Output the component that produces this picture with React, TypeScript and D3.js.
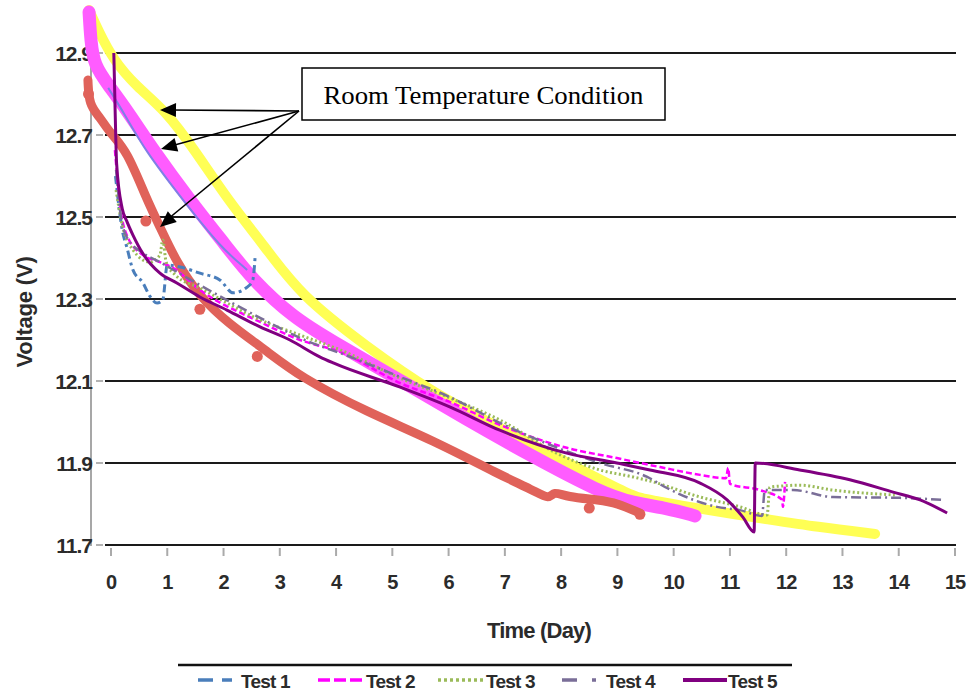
import React from "react";
import * as d3 from "d3";

// ---- Data (day, volts) ----
const dayTicks = [0, 1, 2, 3, 4, 5, 6, 7, 8, 9, 10, 11, 12, 13, 14, 15];
const voltTicks = [11.7, 11.9, 12.1, 12.3, 12.5, 12.7, 12.9];

// Room temperature condition curves (not in legend)
const roomYellow: [number, number][] = [
  [-0.39, 13.005], [-0.23, 12.956], [0.04, 12.883], [0.46, 12.817], [0.96, 12.761],
  [1.49, 12.663], [2.08, 12.541], [2.74, 12.427], [3.36, 12.31], [4.55, 12.183],
  [5.72, 12.071], [6.91, 11.985], [8.1, 11.902], [9.28, 11.817], [9.58, 11.81],
  [10.47, 11.788], [11.66, 11.763], [12.55, 11.744], [13.58, 11.727],
];
const roomMagenta: [number, number][] = [
  [-0.39, 13.0], [-0.36, 12.93], [-0.3, 12.87], [-0.05, 12.822], [0.28, 12.761],
  [0.75, 12.663], [1.4, 12.541], [2.06, 12.427], [2.52, 12.346], [3.23, 12.256],
  [3.89, 12.2], [5.14, 12.102], [6.33, 12.005], [7.5, 11.915], [8.69, 11.829],
  [9.28, 11.802], [9.88, 11.79], [10.38, 11.771],
];
const roomBlueThin: [number, number][] = [
  [-0.05, 12.815], [0.25, 12.749], [0.6, 12.663], [1.28, 12.541], [1.94, 12.427], [2.42, 12.371],
];
const roomRed: [number, number][] = [
  [-0.41, 12.834], [-0.39, 12.773], [-0.2, 12.744], [-0.02, 12.705], [0.28, 12.663],
  [0.64, 12.541], [0.87, 12.476], [1.17, 12.388], [1.58, 12.305], [2.08, 12.241],
  [2.74, 12.176], [3.36, 12.11], [4.55, 12.024], [5.72, 11.956], [6.91, 11.871],
  [7.5, 11.834], [7.8, 11.81], [7.86, 11.832], [8.1, 11.817], [8.69, 11.81],
  [8.99, 11.802], [9.4, 11.778],
];
const roomRedDots: [number, number][] = [
  [-0.4, 12.8], [0.62, 12.49], [1.58, 12.275], [2.6, 12.16], [8.5, 11.79], [9.4, 11.775],
];

const test1: [number, number][] = [
  [0.08, 12.6], [0.2, 12.468], [0.28, 12.427], [0.39, 12.371], [0.57, 12.339], [0.69, 12.307],
  [0.82, 12.29], [0.92, 12.298], [1.0, 12.383], [1.23, 12.378], [1.58, 12.363], [1.94, 12.346],
  [2.17, 12.315], [2.42, 12.329], [2.52, 12.346], [2.56, 12.4],
];
const test2: [number, number][] = [
  [0.07, 12.663], [0.16, 12.529], [0.28, 12.456], [0.57, 12.407], [0.87, 12.39], [1.1, 12.376],
  [1.58, 12.322], [2.65, 12.244], [3.36, 12.2], [4.07, 12.171], [5.14, 12.095], [6.02, 12.049],
  [6.91, 11.993], [8.1, 11.937], [8.99, 11.912], [9.76, 11.89], [10.47, 11.871], [10.93, 11.863],
  [10.97, 11.888], [11.0, 11.849], [11.53, 11.834], [11.93, 11.81], [11.94, 11.793], [11.98, 11.854],
];
const test3: [number, number][] = [
  [0.09, 12.566], [0.2, 12.48], [0.25, 12.456], [0.39, 12.42], [0.69, 12.39], [0.87, 12.407],
  [0.92, 12.444], [0.98, 12.39], [1.14, 12.359], [1.58, 12.327], [2.65, 12.249], [3.36, 12.212],
  [4.07, 12.176], [5.14, 12.107], [6.02, 12.059], [6.91, 12.005], [7.98, 11.92], [8.69, 11.883],
  [9.28, 11.866], [9.58, 11.856], [10.47, 11.817], [11.18, 11.793], [11.66, 11.773], [11.71, 11.841],
  [11.94, 11.844], [12.24, 11.846], [12.83, 11.834], [13.93, 11.822],
];
const test4: [number, number][] = [
  [0.09, 12.615], [0.16, 12.517], [0.28, 12.451], [0.57, 12.412], [0.87, 12.39], [1.17, 12.366],
  [1.58, 12.334], [2.65, 12.254], [3.36, 12.205], [4.25, 12.159], [5.14, 12.11], [6.02, 12.061],
  [6.91, 11.998], [8.69, 11.9], [9.53, 11.866], [9.88, 11.839], [10.77, 11.793], [11.18, 11.785],
  [11.57, 11.771], [11.62, 11.834], [12.12, 11.834], [12.83, 11.817], [14.02, 11.815], [14.79, 11.81],
];
const test5: [number, number][] = [
  [0.05, 12.9], [0.07, 12.78], [0.1, 12.63], [0.2, 12.52], [0.28, 12.49], [0.39, 12.456],
  [0.57, 12.41], [0.87, 12.363], [1.17, 12.339], [1.58, 12.305], [2.06, 12.273], [2.65, 12.232],
  [3.18, 12.2], [3.71, 12.159], [3.95, 12.144], [5.14, 12.085], [6.02, 12.037], [6.91, 11.98],
  [8.1, 11.924], [8.99, 11.9], [9.58, 11.883], [10.47, 11.851], [10.95, 11.81], [11.23, 11.768],
  [11.43, 11.732], [11.45, 11.9], [12.24, 11.883], [13.13, 11.859], [13.9, 11.829], [14.38, 11.81],
  [14.86, 11.778],
];

const seriesNames = ["Test 1", "Test 2", "Test 3", "Test 4", "Test 5"];
const seriesColors = ["#4a7ebb", "#ff00ff", "#9bbb59", "#7a6e98", "#800080"];
const seriesDash = ["8,4,3,4", "6,3", "2,2.5", "10,4,2,4", ""];
const seriesWidth = [3, 2.5, 3, 2.5, 3];
const seriesData = [test1, test2, test3, test4, test5];

const annotation = "Room Temperature Condition";

export default function App() {
  const x = d3.scaleLinear().domain([0, 15]).range([111, 955]);
  const y = d3.scaleLinear().domain([11.7, 12.9]).range([545, 53]);
  const line = d3
    .line<[number, number]>()
    .x((d) => x(d[0]))
    .y((d) => y(d[1]))
    .curve(d3.curveMonotoneX);
  const smooth = d3
    .line<[number, number]>()
    .x((d) => x(d[0]))
    .y((d) => y(d[1]))
    .curve(d3.curveBasis);

  const gridLeft = 105;
  const gridRight = 956;
  const sans = "'Liberation Sans', Arial, sans-serif";
  const serif = "'Liberation Serif', 'Times New Roman', serif";
  const labelFill = "#2b2b2b";

  const legendItems = [
    { sx: 198, ex: 238, tx: 241 },
    { sx: 318, ex: 363, tx: 366 },
    { sx: 438, ex: 486, tx: 486 },
    { sx: 562, ex: 598, tx: 606 },
    { sx: 683, ex: 727, tx: 728 },
  ];
  const legendDash = ["15,9,10,9", "12,4", "3,3", "15,15,4,30", ""];

  const boxLeft = 302;
  const arrowStart: [number, number] = [299, 111];
  const arrowTips: [number, number][] = [
    [160, 110],
    [161, 149],
    [160, 227],
  ];

  const arrowHead = (tip: [number, number], from: [number, number]) => {
    const dx = from[0] - tip[0];
    const dy = from[1] - tip[1];
    const len = Math.hypot(dx, dy);
    const ux = dx / len;
    const uy = dy / len;
    const L = 16;
    const W = 7;
    const bx = tip[0] + ux * L;
    const by = tip[1] + uy * L;
    return `M${tip[0]},${tip[1]}L${bx - uy * W},${by + ux * W}L${bx + uy * W},${by - ux * W}Z`;
  };

  return (
    <svg
      width={972}
      height={694}
      style={{ position: "absolute", left: 0, top: 0, background: "#fff" }}
    >
      <rect x={0} y={0} width={972} height={694} fill="#fff" />
      {/* y axis line */}
      <line x1={91} x2={91} y1={12} y2={546} stroke="#8a8a8a" strokeWidth={1.5} />
      {/* gridlines */}
      {voltTicks.map((v) => (
        <g key={v}>
          <line x1={gridLeft} x2={gridRight} y1={y(v)} y2={y(v)} stroke="#1a1a1a" strokeWidth={2.2} />
          <line x1={96} x2={103} y1={y(v)} y2={y(v)} stroke="#999" strokeWidth={1.5} />
          <text
            x={92}
            y={y(v) + 8}
            textAnchor="end"
            fontFamily={sans}
            fontWeight="bold"
            fontSize={21}
            letterSpacing={-1}
            fill={labelFill}
          >
            {v.toFixed(1)}
          </text>
        </g>
      ))}
      {/* x ticks */}
      {dayTicks.map((d) => (
        <g key={d}>
          <line x1={x(d)} x2={x(d)} y1={548} y2={556} stroke="#aaa" strokeWidth={2} />
          <text
            x={x(d)}
            y={589}
            textAnchor="middle"
            fontFamily={sans}
            fontWeight="bold"
            fontSize={20}
            letterSpacing={-1}
            fill={labelFill}
          >
            {d}
          </text>
        </g>
      ))}

      {/* Room temperature curves */}
      <path d={smooth(roomYellow) || ""} fill="none" stroke="#ffff55" strokeWidth={10} strokeLinecap="round" strokeLinejoin="round" />
      <path d={smooth(roomMagenta) || ""} fill="none" stroke="#ff5cff" strokeWidth={13} strokeLinecap="round" strokeLinejoin="round" />
      <path d={smooth(roomBlueThin) || ""} fill="none" stroke="#7f7fe6" strokeWidth={2} />
      <path d={smooth(roomRed) || ""} fill="none" stroke="#e0625a" strokeWidth={9} strokeLinecap="round" strokeLinejoin="round" />
      {roomRedDots.map((p, i) => (
        <circle key={i} cx={x(p[0])} cy={y(p[1])} r={5.5} fill="#e0625a" />
      ))}

      {/* Test series */}
      {seriesData.map((s, i) => (
        <path
          key={seriesNames[i]}
          d={line(s) || ""}
          fill="none"
          stroke={seriesColors[i]}
          strokeWidth={seriesWidth[i]}
          strokeDasharray={seriesDash[i] || undefined}
          strokeLinejoin="round"
        />
      ))}

      {/* Annotation */}
      <line x1={arrowStart[0]} y1={arrowStart[1]} x2={arrowTips[0][0] + 10} y2={arrowTips[0][1]} stroke="#000" strokeWidth={1.6} />
      <line x1={arrowStart[0]} y1={arrowStart[1]} x2={arrowTips[1][0] + 10} y2={arrowTips[1][1] - 3} stroke="#000" strokeWidth={1.6} />
      <line x1={arrowStart[0]} y1={arrowStart[1]} x2={arrowTips[2][0] + 8} y2={arrowTips[2][1] - 8} stroke="#000" strokeWidth={1.6} />
      {arrowTips.map((t, i) => (
        <path key={i} d={arrowHead(t, arrowStart)} fill="#000" />
      ))}
      <rect x={boxLeft} y={68} width={363} height={52} fill="#fff" stroke="#000" strokeWidth={1.5} />
      <text
        x={boxLeft + 363 / 2}
        y={104}
        textAnchor="middle"
        fontFamily={serif}
        fontSize={25}
        textLength={320}
        lengthAdjust="spacingAndGlyphs"
        fill="#000"
      >
        {annotation}
      </text>

      {/* Axis titles */}
      <text
        x={539}
        y={638}
        textAnchor="middle"
        fontFamily={sans}
        fontWeight="bold"
        fontSize={22}
        letterSpacing={-0.8}
        fill={labelFill}
      >
        Time (Day)
      </text>
      <text
        transform="translate(32,312) rotate(-90)"
        textAnchor="middle"
        fontFamily={sans}
        fontWeight="bold"
        fontSize={22}
        letterSpacing={-0.2}
        fill={labelFill}
      >
        Voltage (V)
      </text>

      {/* Legend */}
      <line x1={178} x2={792} y1={665} y2={665} stroke="#111" strokeWidth={2.5} />
      {legendItems.map((it, i) => (
        <g key={seriesNames[i]}>
          <line
            x1={it.sx}
            x2={it.ex}
            y1={680}
            y2={680}
            stroke={seriesColors[i]}
            strokeWidth={i === 4 ? 4 : 3.5}
            strokeDasharray={legendDash[i] || undefined}
          />
          <text
            x={it.tx}
            y={688}
            fontFamily={sans}
            fontWeight="bold"
            fontSize={19}
            letterSpacing={-0.8}
            fill={labelFill}
          >
            {seriesNames[i]}
          </text>
        </g>
      ))}
    </svg>
  );
}
